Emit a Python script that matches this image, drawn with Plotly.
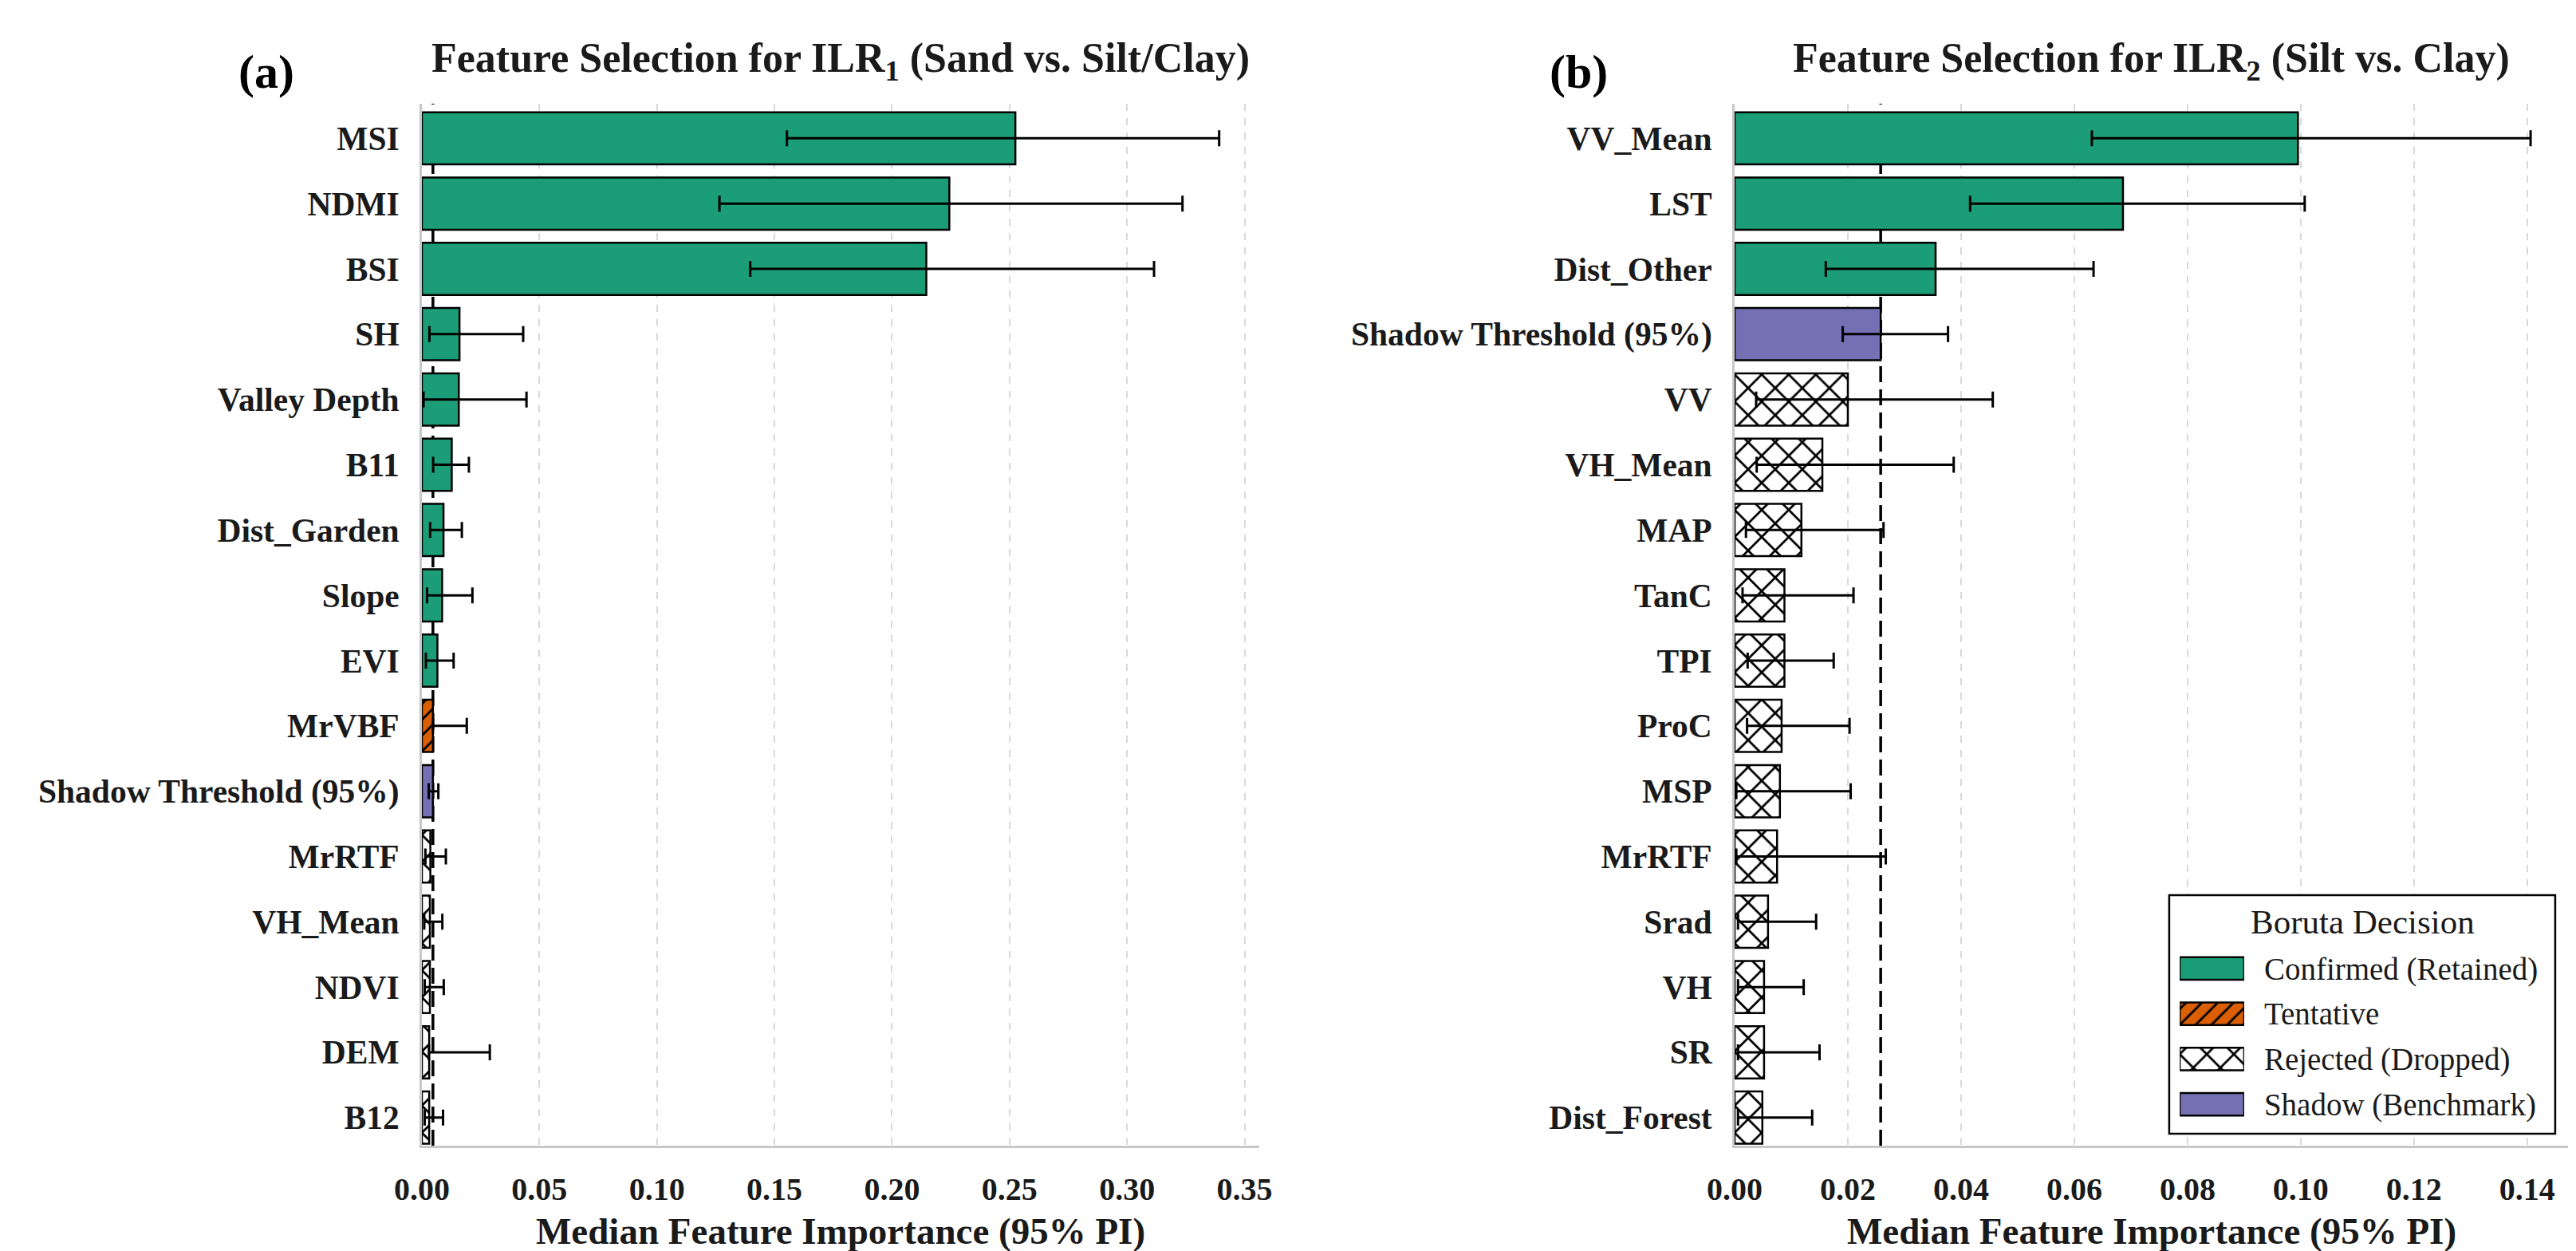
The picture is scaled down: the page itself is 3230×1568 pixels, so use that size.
import plotly.graph_objects as go

# ILR1: Sand vs. Silt/Clay
features_ilr1 = [
    "MSI", "NDMI", "BSI", "SH", "Valley Depth", "B11", "Dist_Garden", "Slope",
    "EVI", "MrVBF", "Shadow Threshold (95%)", "MrRTF", "VH_Mean", "NDVI", "DEM", "B12",
]
median_ilr1 = [0.2525, 0.2244, 0.2146, 0.0160, 0.0157, 0.0127, 0.0092, 0.0086,
               0.0066, 0.0047, 0.0047, 0.0036, 0.0034, 0.0034, 0.0031, 0.0031]
lower_ilr1 = [0.1553, 0.1266, 0.1397, 0.0032, 0.0007, 0.0048, 0.0035, 0.0022,
              0.0017, 0.0047, 0.0029, 0.0015, 0.0010, 0.0012, 0.0030, 0.0012]
upper_ilr1 = [0.3392, 0.3236, 0.3115, 0.0431, 0.0445, 0.0200, 0.0170, 0.0215,
              0.0135, 0.0191, 0.0070, 0.0102, 0.0087, 0.0093, 0.0289, 0.0090]
decision_ilr1 = ["Confirmed"] * 9 + ["Tentative", "Shadow"] + ["Rejected"] * 5

# ILR2: Silt vs. Clay
features_ilr2 = [
    "VV_Mean", "LST", "Dist_Other", "Shadow Threshold (95%)", "VV", "VH_Mean", "MAP", "TanC",
    "TPI", "ProC", "MSP", "MrRTF", "Srad", "VH", "SR", "Dist_Forest",
]
median_ilr2 = [0.0995, 0.0686, 0.0355, 0.0258, 0.0200, 0.0155, 0.0118, 0.0088,
               0.0088, 0.0083, 0.0080, 0.0075, 0.0059, 0.0052, 0.0052, 0.0049]
lower_ilr2 = [0.0631, 0.0416, 0.0161, 0.0191, 0.0038, 0.0039, 0.0020, 0.0014,
              0.0023, 0.0022, 0.0003, 0.0003, 0.0006, 0.0006, 0.0006, 0.0006]
upper_ilr2 = [0.1406, 0.1007, 0.0634, 0.0377, 0.0456, 0.0387, 0.0263, 0.0210,
              0.0175, 0.0203, 0.0205, 0.0267, 0.0144, 0.0122, 0.0150, 0.0137]
decision_ilr2 = ["Confirmed"] * 3 + ["Shadow"] + ["Rejected"] * 12

# Legend entries
decision_names = ["Confirmed", "Tentative", "Rejected", "Shadow"]
legend_labels = ["Confirmed (Retained)", "Tentative", "Rejected (Dropped)", "Shadow (Benchmark)"]

FONT = "Liberation Serif, Times New Roman, serif"
FILL = {"Confirmed": "#1b9e77", "Tentative": "#d95f02", "Rejected": "white", "Shadow": "#7570b3"}
HATCH = {"Confirmed": "", "Tentative": "/", "Rejected": "x", "Shadow": ""}
HATCH_SIZE = {"Confirmed": 10, "Tentative": 14, "Rejected": 24, "Shadow": 10}
HATCH_SOLIDITY = {"Confirmed": 0.2, "Tentative": 0.2, "Rejected": 0.22, "Shadow": 0.2}

W, H = 3230, 1568
X1_RANGE = [0, 0.3563]
X2_RANGE = [0, 0.1472]
Y_DOMAIN = [0.0893, 0.9222]


def bar_marker(decision):
    """Fill colour and hatch for one Boruta decision (scalar colours keep the hatch black)."""
    return {
        "color": FILL[decision],
        "line": {"color": "black", "width": 2.5},
        "pattern": {
            "shape": HATCH[decision],
            "size": HATCH_SIZE[decision],
            "solidity": HATCH_SOLIDITY[decision],
            "fgcolor": "black",
            "bgcolor": FILL[decision],
            "fgopacity": 1,
        },
    }


fig = go.Figure()

panels = [
    (features_ilr1, median_ilr1, lower_ilr1, upper_ilr1, decision_ilr1, "x", "y"),
    (features_ilr2, median_ilr2, lower_ilr2, upper_ilr2, decision_ilr2, "x2", "y2"),
]
for features, median, lower, upper, decisions, xref, yref in panels:
    for d in decision_names:
        idx = [i for i, dec in enumerate(decisions) if dec == d]
        if not idx:
            continue
        fig.add_trace(
            go.Bar(
                x=[median[i] for i in idx],
                y=[features[i] for i in idx],
                orientation="h",
                width=0.8,
                marker=bar_marker(d),
                error_x={
                    "type": "data",
                    "symmetric": False,
                    "array": [upper[i] - median[i] for i in idx],
                    "arrayminus": [median[i] - lower[i] for i in idx],
                    "color": "black",
                    "thickness": 3,
                    "width": 10,
                },
                name=d,
                xaxis=xref,
                yaxis=yref,
                showlegend=False,
            )
        )

    # Shadow threshold line, behind the bars
    threshold = median[features.index("Shadow Threshold (95%)")]
    fig.add_shape(
        type="line",
        x0=threshold,
        x1=threshold,
        y0=0,
        y1=1,
        xref=xref,
        yref=yref + " domain",
        line={"color": "black", "width": 3.5, "dash": "20px,9px"},
        layer="below",
    )

# Legend swatches drawn as a tiny bar chart of their own
for d, label in zip(decision_names, legend_labels):
    fig.add_trace(
        go.Bar(
            x=[1],
            y=[label],
            orientation="h",
            width=0.5,
            marker=bar_marker(d),
            xaxis="x3",
            yaxis="y3",
            showlegend=False,
            hoverinfo="skip",
        )
    )

# Legend box, above the grid of the right panel but below its bars
n2 = len(features_ilr2)
y2_range = [n2 - 1 + 0.43, -0.53]
box_x = [0.5215, 0.9847]   # fraction of the right panel width
box_y = [0.0115, 0.2404]   # fraction of the right panel height, from bottom
fig.add_shape(
    type="rect",
    xref="x2",
    yref="y2",
    x0=X2_RANGE[0] + box_x[0] * (X2_RANGE[1] - X2_RANGE[0]),
    x1=X2_RANGE[0] + box_x[1] * (X2_RANGE[1] - X2_RANGE[0]),
    y0=y2_range[0] + box_y[0] * (y2_range[1] - y2_range[0]),
    y1=y2_range[0] + box_y[1] * (y2_range[1] - y2_range[0]),
    line={"color": "black", "width": 2.5},
    fillcolor="white",
    layer="between",
)


def x_axis(domain, dtick, rng, anchor):
    return {
        "domain": domain,
        "range": rng,
        "dtick": dtick,
        "tickformat": ".2f",
        "anchor": anchor,
        "automargin": False,
        "showgrid": True,
        "gridcolor": "#d9d9d9",
        "gridwidth": 2,
        "griddash": "dash",
        "zeroline": False,
        "showline": True,
        "linecolor": "#c8c8c8",
        "linewidth": 3,
        "ticks": "",
        "ticklabelstandoff": 17,
        "tickfont": {"family": FONT, "size": 40, "color": "#1a1a1a", "weight": "bold"},
    }


def y_axis(features, anchor):
    n = len(features)
    return {
        "domain": Y_DOMAIN,
        "type": "category",
        "categoryorder": "array",
        "categoryarray": features,
        "range": [n - 1 + 0.43, -0.53],
        "anchor": anchor,
        "automargin": False,
        "showgrid": False,
        "zeroline": False,
        "showline": True,
        "linecolor": "#c8c8c8",
        "linewidth": 3,
        "ticks": "",
        "ticklabelstandoff": 17,
        "tickfont": {"family": FONT, "size": 41.5, "color": "#1a1a1a", "weight": "bold"},
    }


fig.update_layout(
    template="none",
    width=W,
    height=H,
    margin={"l": 0, "r": 0, "t": 0, "b": 0, "autoexpand": False},
    paper_bgcolor="white",
    plot_bgcolor="white",
    barmode="overlay",
    showlegend=False,
    xaxis=x_axis([0.1613, 0.4864], 0.05, X1_RANGE, "y"),
    yaxis=y_axis(features_ilr1, "x"),
    xaxis2=x_axis([0.6709, 0.9944], 0.02, X2_RANGE, "y2"),
    yaxis2=y_axis(features_ilr2, "x2"),
    xaxis3={"domain": [0.8437, 0.8687], "range": [0, 1], "anchor": "y3",
            "visible": False, "automargin": False},
    yaxis3={
        "domain": [0.1043, 0.2490],
        "type": "category",
        "categoryorder": "array",
        "categoryarray": legend_labels,
        "range": [len(legend_labels) - 0.5, -0.5],
        "anchor": "x3",
        "side": "right",
        "automargin": False,
        "showgrid": False,
        "zeroline": False,
        "showline": False,
        "ticks": "",
        "ticklabelstandoff": 24,
        "tickfont": {"family": FONT, "size": 39, "color": "#1a1a1a"},
    },
)

# Panel titles, axis titles and letters
title_font = {"family": FONT, "size": 52, "color": "#1a1a1a", "weight": "bold"}
axis_title_font = {"family": FONT, "size": 47, "color": "#1a1a1a", "weight": "bold"}
for xc, title in [
    (0.3238, "Feature Selection for ILR<sub>1</sub> (Sand vs. Silt/Clay)"),
    (0.8328, "Feature Selection for ILR<sub>2</sub> (Silt vs. Clay)"),
]:
    fig.add_annotation(x=xc, y=0.956, xref="paper", yref="paper", text=title,
                       showarrow=False, font=title_font, xanchor="center", yanchor="middle")
    fig.add_annotation(x=xc, y=0.021, xref="paper", yref="paper",
                       text="Median Feature Importance (95% PI)",
                       showarrow=False, font=axis_title_font, xanchor="center", yanchor="middle")

for x, text in [(0.1009, "(a)"), (0.6105, "(b)")]:
    fig.add_annotation(x=x, y=0.9477, xref="paper", yref="paper", text=text, showarrow=False,
                       font={"family": FONT, "size": 60, "color": "black", "weight": "bold"},
                       xanchor="center", yanchor="middle")

fig.add_annotation(x=0.9146, y=0.2679, xref="paper", yref="paper", text="Boruta Decision",
                   showarrow=False, font={"family": FONT, "size": 43, "color": "#1a1a1a"},
                   xanchor="center", yanchor="middle")

fig.write_html("out.html")
